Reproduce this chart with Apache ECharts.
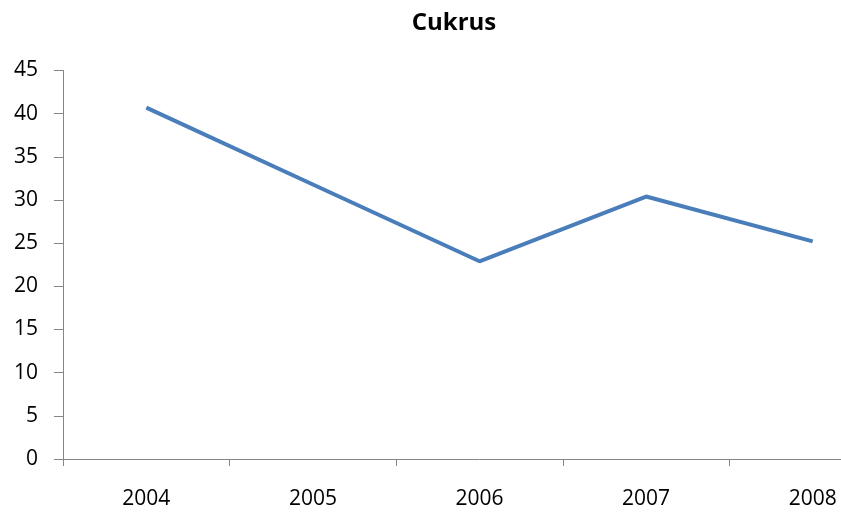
<!DOCTYPE html>
<html>
<head>
<meta charset="utf-8">
<script src="https://cdn.jsdelivr.net/npm/echarts@6/dist/echarts.min.js"></script>
<style>html,body{margin:0;padding:0;background:#fff;overflow:hidden;width:841px;height:515px}#c{width:900px;height:515px}</style>
</head>
<body>
<div id="c"></div>
<script>
const categories = ['2004', '2005', '2006', '2007', '2008'];
const values = [40.7, 31.8, 22.9, 30.4, 25.2];
const yTicks = { min: 0, max: 45, interval: 5 };
const chart = echarts.init(document.getElementById('c'), null, { renderer: 'canvas' });
const font = "'Open Sans', 'Liberation Sans', sans-serif";
chart.setOption({
  animation: false,
  backgroundColor: '#ffffff',
  title: {
    text: 'Cukrus', left: 449, top: 6, textAlign: 'center',
    textStyle: { fontFamily: font, fontSize: 24, fontWeight: 'bold', color: '#000' }
  },
  grid: { left: 63, top: 70.5, width: 833, height: 388.5, outerBoundsMode: 'none' },
  xAxis: {
    type: 'category', data: categories, boundaryGap: true,
    axisLine: { lineStyle: { color: '#868686', width: 1 } },
    axisTick: { show: true, length: 7, alignWithLabel: false, lineStyle: { color: '#868686' } },
    axisLabel: { fontFamily: font, fontSize: 21, color: '#000', margin: 30 },
    splitLine: { show: false }
  },
  yAxis: {
    type: 'value', min: yTicks.min, max: yTicks.max, interval: yTicks.interval,
    axisLine: { show: true, lineStyle: { color: '#868686', width: 1 } },
    axisTick: { show: true, inside: false, length: 9, lineStyle: { color: '#868686' } },
    axisLabel: { fontFamily: font, fontSize: 21, color: '#000', margin: 25 },
    splitLine: { show: false }
  },
  series: [{
    type: 'line', data: values, symbol: 'none',
    lineStyle: { color: '#4A7EBB', width: 4 }
  }]
});
</script>
</body>
</html>
